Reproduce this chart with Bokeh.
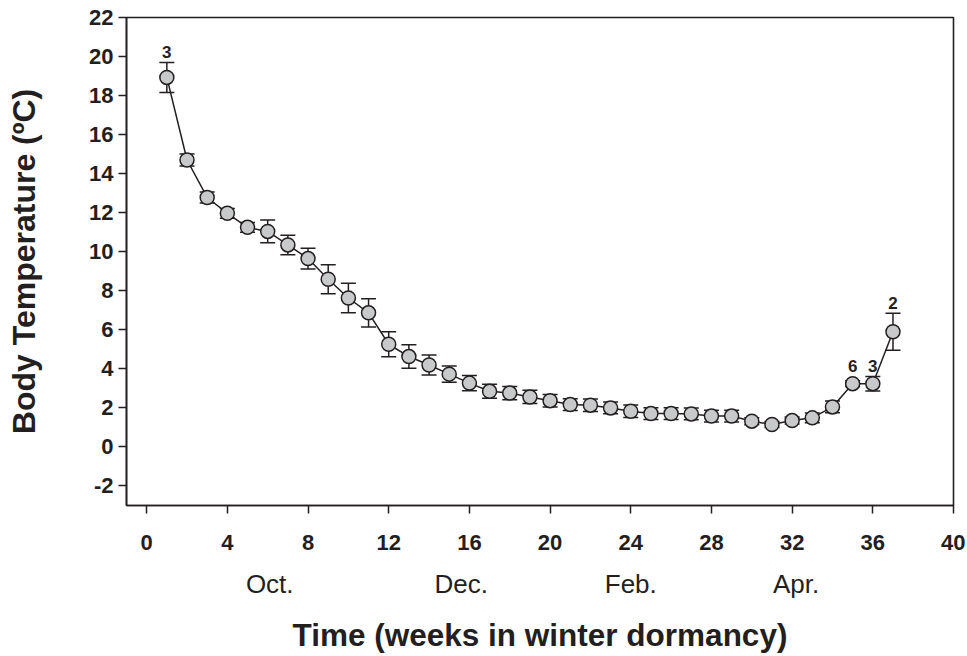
from bokeh.plotting import figure
from bokeh.models import ColumnDataSource, Whisker, TeeHead, LinearAxis, FixedTicker, Range1d
from bokeh.embed import file_html
from bokeh.resources import INLINE
from bokeh.core.properties import value

# ---- data ----
weeks = list(range(1, 38))
temp = [18.93, 14.70, 12.78, 11.97, 11.25, 11.04, 10.35, 9.65, 8.59, 7.63,
        6.87, 5.26, 4.63, 4.20, 3.73, 3.27, 2.85, 2.76, 2.56, 2.37,
        2.17, 2.14, 2.00, 1.83, 1.71, 1.71, 1.69, 1.58, 1.58, 1.32,
        1.15, 1.35, 1.49, 2.05, 3.24, 3.24, 5.90]
sem = [0.77, 0.31, 0.28, 0.25, 0.25, 0.58, 0.50, 0.53, 0.74, 0.76,
       0.72, 0.64, 0.60, 0.51, 0.42, 0.39, 0.36, 0.34, 0.34, 0.32,
       0.30, 0.32, 0.30, 0.32, 0.30, 0.30, 0.30, 0.30, 0.30, 0.18,
       0.15, 0.18, 0.25, 0.30, 0.15, 0.37, 0.95]
n_weeks = [1, 35, 36, 37]
n_labels = ["3", "6", "3", "2"]

x_ticks = list(range(0, 41, 4))
y_ticks = list(range(-2, 23, 2))
y_tick_labels = [str(t) for t in y_ticks]   # plain hyphen for "-2"
month_pos = [6.1, 15.6, 24.0, 32.2]
month_labels = ["Oct.", "Dec.", "Feb.", "Apr."]

FONT = "Liberation Sans"
INK = "#231f20"

X0, X1 = -1, 40
Y0, Y1 = -3, 22
W, H = 965, 655
ML, MT = 126, 17
MR = W - 953
MB = H - 508

p = figure(width=W, height=H, x_range=Range1d(X0, X1), y_range=Range1d(Y0, Y1),
           output_backend="svg", toolbar_location=None,
           min_border_left=ML, min_border_right=MR, min_border_top=MT, min_border_bottom=MB)
p.xgrid.visible = False
p.ygrid.visible = False
p.outline_line_color = INK
p.outline_line_width = 1.6
p.background_fill_color = "white"
p.border_fill_color = "white"

upper = [t + s for t, s in zip(temp, sem)]
lower = [t - s for t, s in zip(temp, sem)]
src = ColumnDataSource(dict(x=weeks, y=temp, upper=upper, lower=lower))

w = Whisker(source=src, base="x", upper="upper", lower="lower",
            line_color=INK, line_width=1.5,
            upper_head=TeeHead(size=15, line_color=INK, line_width=1.5),
            lower_head=TeeHead(size=15, line_color=INK, line_width=1.5))
p.add_layout(w)

p.line("x", "y", source=src, line_color=INK, line_width=1.5)
p.scatter("x", "y", source=src, size=14, fill_color="#c8c9cb", line_color=INK, line_width=1.5)

# sample-size labels above the error bars / markers
px_per_unit = (H - MT - MB) / (Y1 - Y0)
marker_r = 7.5 / px_per_unit
gap = 4.0 / px_per_unit
lab_y = []
for wk in n_weeks:
    i = weeks.index(wk)
    lab_y.append(temp[i] + max(sem[i], marker_r) + gap)
p.text(x=n_weeks, y=lab_y, text=n_labels, text_font=value(FONT), text_font_style="bold",
       text_font_size="17px", text_color=INK, text_align="center",
       text_baseline="bottom")

# axes
xa = p.xaxis[0]
xa.ticker = FixedTicker(ticks=x_ticks)
xa.minor_tick_line_color = None
xa.major_tick_in = 0
xa.major_tick_out = 8
xa.major_tick_line_width = 1.5
xa.major_tick_line_color = INK
xa.axis_line_color = INK
xa.axis_line_width = 1.6
xa.major_label_text_font = FONT
xa.major_label_text_font_style = "bold"
xa.major_label_text_font_size = "22px"
xa.major_label_text_color = INK
xa.major_label_standoff = 21

ya = p.yaxis[0]
ya.ticker = FixedTicker(ticks=y_ticks)
ya.major_label_overrides = dict(zip(y_ticks, y_tick_labels))
ya.minor_tick_line_color = None
ya.major_tick_in = 0
ya.major_tick_out = 8
ya.major_tick_line_width = 1.5
ya.major_tick_line_color = INK
ya.axis_line_color = INK
ya.axis_line_width = 1.6
ya.major_label_text_font = FONT
ya.major_label_text_font_style = "bold"
ya.major_label_text_font_size = "22px"
ya.major_label_text_color = INK
ya.major_label_standoff = 5
ya.axis_label = "Body Temperature (ºC)"
ya.axis_label_text_font = FONT
ya.axis_label_text_font_style = "bold"
ya.axis_label_text_font_size = "32px"
ya.axis_label_text_color = INK
ya.axis_label_standoff = 44

ma = LinearAxis(ticker=FixedTicker(ticks=month_pos),
                major_label_overrides=dict(zip(month_pos, month_labels)),
                axis_line_color=None, major_tick_line_color=None, minor_tick_line_color=None,
                major_tick_in=0, major_tick_out=0, major_label_standoff=16,
                major_label_text_font=FONT, major_label_text_font_size="26px",
                major_label_text_color=INK,
                axis_label="Time (weeks in winter dormancy)",
                axis_label_text_font=FONT, axis_label_text_font_style="bold",
                axis_label_text_font_size="31.5px", axis_label_text_color=INK,
                axis_label_standoff=15)
p.add_layout(ma, "below")

open("out.html", "w").write(file_html(p, INLINE))
